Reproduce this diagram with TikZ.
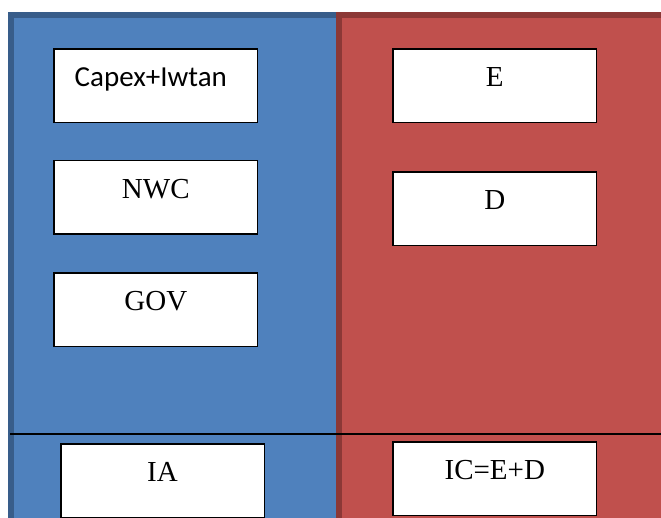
\documentclass[tikz,border=0pt]{standalone}
\usepackage{fontspec}
\setmainfont{Liberation Serif}
\newfontfamily\carlito{Carlito}
\definecolor{bluefill}{HTML}{4F81BD}
\definecolor{blueedge}{HTML}{385D8A}
\definecolor{redfill}{HTML}{C0504D}
\definecolor{rededge}{HTML}{8C3836}
\tikzset{
  panelblue/.style={draw=blueedge, fill=bluefill, line width=5.5pt},
  panelred/.style={draw=rededge, fill=redfill, line width=5.5pt},
  itembox/.style={draw=black, fill=white, line width=1.5pt, anchor=north west,
    inner sep=0pt, minimum width=203.5pt, text height=37.8pt, text depth=35.7pt,
    align=center, font=\fontsize{29}{31}\selectfont},
  divider/.style={draw=black, line width=2pt}
}
\begin{document}
\begin{tikzpicture}[x=1pt,y=-1pt]
\useasboundingbox (0,0) rectangle (661,517);
\clip (0,0) rectangle (661,517);
\draw[panelblue] (10.75,14.75) rectangle (420,540);
\draw[panelred] (338.75,14.75) rectangle (690,540);
\coordinate (divL) at (10,434.3);
\coordinate (divR) at (661,434.3);
\draw[divider] (divL) -- (divR);
\node[itembox] (capex) at (53.3,48) {\carlito Capex+Iwtan\hspace*{10pt}};
\node[itembox] (nwc) at (53.3,159.5) {NWC};
\node[itembox] (gov) at (53.3,272) {GOV};
\node[itembox] (e) at (392.3,48) {E};
\node[itembox] (d) at (392.3,171) {D};
\node[itembox] (ia) at (60,443.3) {IA};
\node[itembox] (ic) at (392.3,441) {IC=E+D};
\end{tikzpicture}
\end{document}
